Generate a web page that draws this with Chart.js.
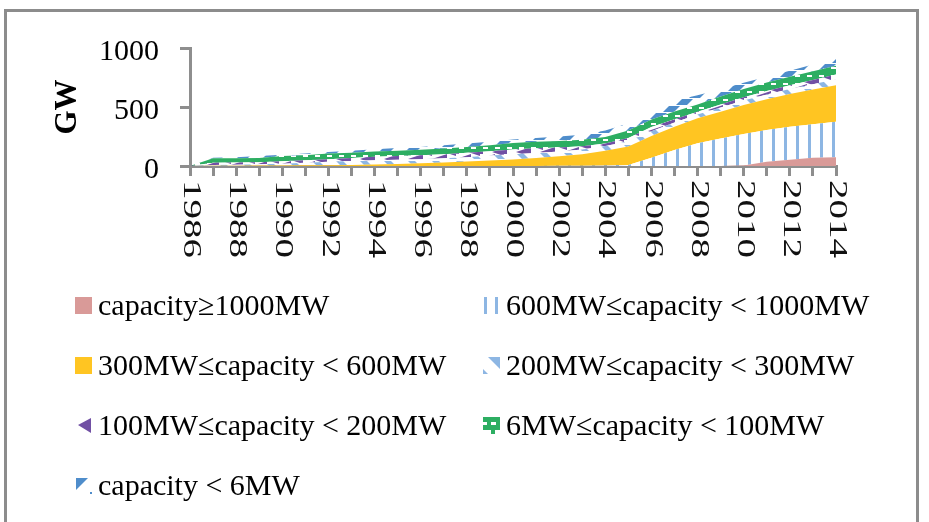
<!DOCTYPE html>
<html>
<head>
<meta charset="utf-8">
<script src="https://cdn.jsdelivr.net/npm/chart.js@4.4.0/dist/chart.umd.min.js"></script>
<style>
  body { margin: 0; background: #fff; }
  #wrap { position: relative; width: 929px; height: 522px; overflow: hidden; }
  #frame { position: absolute; left: 4px; top: 9px; width: 909px; height: 600px; border: 3px solid #8c8c8c; }
  #chart { position: absolute; left: 0; top: 0; }
  .item { position: absolute; height: 40px; display: flex; align-items: center;
          font: 30px "Liberation Serif"; color: #000; white-space: nowrap; }
  .item canvas { margin-right: 6px; }
</style>
</head>
<body>
<div id="wrap">
  <div id="frame"></div>
  <canvas id="chart" width="929" height="522"></canvas>
  <div id="legend"></div>
</div>
<script>
// installed capacity by unit size, GW
const years = ['1986','1987','1988','1989','1990','1991','1992','1993','1994','1995',
  '1996','1997','1998','1999','2000','2001','2002','2003','2004','2005',
  '2006','2007','2008','2009','2010','2011','2012','2013','2014'];

const cap1000 = [0,0,0,0,0,0,0,0,0,0,0,0,0,0,0,0,0,0,0,0,0,0,0,0,5,35,52,70,74];
const cap600  = [0,0,0,0,0,0,0,0,1,1,1,1,1,1,1,1,2,3,4,8,70,135,192,234,266,270,281,283,301];
const cap300  = [0,2,3,4,5,6,7,9,11,17,23,29,37,45,55,67,80,97,126,157,184,198,212,226,246,260,277,295,309];
const cap200  = [0,6,7,10,15,22,28,33,36,34,34,35,37,42,44,42,40,40,40,42,40,36,32,35,38,40,42,45,51];
const cap100  = [0,20,20,18,20,20,23,26,30,33,34,35,37,37,40,40,35,27,20,31,36,28,24,26,28,30,32,35,40];
const cap6    = [0,37,35,36,45,44,47,45,44,45,46,48,48,50,55,55,55,55,55,62,65,65,62,68,70,72,73,74,75];
const capLt6  = [0,5,10,17,10,13,13,17,20,22,24,27,30,30,30,33,38,43,55,60,55,93,78,61,52,50,50,58,60];

const seriesNames = ['capacity≥1000MW', '600MW≤capacity < 1000MW', '300MW≤capacity < 600MW',
  '200MW≤capacity < 300MW', '100MW≤capacity < 200MW', '6MW≤capacity < 100MW', 'capacity < 6MW'];

const gray = '#8e8e8e';
const pink = '#d99a98';
const lightBlue = '#8db6e3';
const yellow = '#ffc522';
const purple = '#7150a4';
const green = '#2dae62';
const blue = '#4f8dcb';

function tile(w, h, paint) {
  const c = document.createElement('canvas');
  c.width = w; c.height = h;
  const g = c.getContext('2d');
  g.fillStyle = '#fff';
  g.fillRect(0, 0, w, h);
  paint(g);
  return c;
}
function poly(g, pts) {
  g.beginPath();
  g.moveTo(pts[0][0], pts[0][1]);
  for (let i = 1; i < pts.length; i++) g.lineTo(pts[i][0], pts[i][1]);
  g.closePath();
  g.fill();
}

const tiles = [
  tile(4, 4, g => { g.fillStyle = pink; g.fillRect(0, 0, 4, 4); }),
  tile(12, 6, g => { g.fillStyle = lightBlue; g.fillRect(4, 0, 3, 6); }),
  tile(4, 4, g => { g.fillStyle = yellow; g.fillRect(0, 0, 4, 4); }),
  tile(24, 16, g => {
    g.fillStyle = lightBlue;
    poly(g, [[0,1],[7,1],[13,7],[6,7]]);
    poly(g, [[12,9],[19,9],[25,15],[18,15]]);
    poly(g, [[-12,9],[-5,9],[1,15],[-6,15]]);
  }),
  tile(24, 14, g => {
    g.fillStyle = purple;
    poly(g, [[0,5],[15,0],[15,10]]);
    poly(g, [[12,12],[27,7],[27,17]]);
    poly(g, [[-12,12],[3,7],[3,17]]);
    poly(g, [[12,-2],[27,-7],[27,3]]);
  }),
  tile(12, 8, g => { g.fillStyle = green; g.fillRect(0, 0, 12, 8); g.fillStyle = '#fff'; g.fillRect(3, 3, 5, 2); }),
  tile(26, 14, g => {
    g.fillStyle = blue;
    poly(g, [[0,7],[6,1],[17,1],[11,7]]);
    poly(g, [[13,14],[19,8],[30,8],[24,14]]);
    poly(g, [[-13,14],[-7,8],[4,8],[-2,14]]);
  })
];

// legend keys, 17x17
const keys = [
  g => { g.fillStyle = pink; g.fillRect(0, 0, 17, 17); },
  g => { g.fillStyle = lightBlue; g.fillRect(1, 0, 3, 17); g.fillRect(12, 0, 3, 17); },
  g => { g.fillStyle = yellow; g.fillRect(0, 0, 17, 17); },
  g => { g.fillStyle = lightBlue; poly(g, [[5,0],[17,0],[17,12]]); poly(g, [[0,12],[0,17],[5,17]]); },
  g => { g.fillStyle = purple; poly(g, [[3,8],[16,1],[16,16]]); },
  g => { g.fillStyle = green; g.fillRect(0, 0, 17, 17); g.fillStyle = '#fff';
         g.fillRect(0, 5, 4, 3); g.fillRect(8, 5, 5, 3); g.fillRect(0, 13, 8, 4); g.fillRect(12, 13, 5, 4); },
  g => { g.fillStyle = blue; poly(g, [[1,1],[13,1],[1,13]]); g.fillRect(15, 15, 2, 2); }
];

const ctx = document.getElementById('chart').getContext('2d');
const values = [cap1000, cap600, cap300, cap200, cap100, cap6, capLt6];

const datasets = values.map((v, i) => ({
  label: seriesNames[i],
  data: v,
  backgroundColor: ctx.createPattern(tiles[i], 'repeat'),
  borderColor: 'rgba(0,0,0,0)',
  borderWidth: 0,
  pointRadius: 0,
  tension: 0,
  fill: i === 0 ? 'origin' : '-1'
}));

// year labels run top to bottom, so they are drawn here
const yearLabels = {
  id: 'yearLabels',
  afterDraw(chart) {
    const xs = chart.scales.x;
    const g = chart.ctx;
    g.save();
    g.fillStyle = '#111';
    g.font = '26px "Liberation Serif"';
    g.textAlign = 'left';
    g.textBaseline = 'middle';
    years.forEach((yr, i) => {
      if (i % 2) return;
      g.save();
      g.translate(xs.getPixelForTick(i) + 1, xs.top + 14);
      g.rotate(Math.PI / 2);
      g.scale(1.5, 1);
      g.fillText(yr, 0, 0);
      g.restore();
    });
    g.restore();
  }
};

const chart = new Chart(ctx, {
  type: 'line',
  data: { labels: years, datasets: datasets },
  options: {
    responsive: false,
    animation: false,
    devicePixelRatio: 1,
    layout: { padding: { left: 47, right: 93, top: 48, bottom: 256 } },
    plugins: { legend: { display: false }, tooltip: { enabled: false } },
    scales: {
      x: {
        offset: false,
        grid: { drawOnChartArea: false, drawTicks: true, tickLength: 10, color: gray, lineWidth: 3, offset: false },
        border: { color: gray, width: 3 },
        ticks: { display: false, autoSkip: false },
        afterFit: a => { a.height = 100; }
      },
      y: {
        stacked: true,
        min: 0,
        max: 1000,
        ticks: {
          stepSize: 500,
          padding: 21,
          labelOffset: 4,
          color: '#000',
          font: { family: 'Liberation Serif', size: 30 },
          callback: v => v
        },
        grid: { drawOnChartArea: false, drawTicks: true, tickLength: 10, color: gray, lineWidth: 3 },
        border: { color: gray, width: 3 },
        title: {
          display: true,
          text: 'GW',
          color: '#000',
          padding: { top: 2, bottom: 4 },
          font: { family: 'Liberation Serif', size: 31, weight: 'bold' }
        },
        afterFit: a => { a.width = 143; }
      }
    }
  },
  plugins: [yearLabels]
});

// legend in two columns
const legend = document.getElementById('legend');
chart.data.datasets.forEach((ds, i) => {
  const item = document.createElement('div');
  item.className = 'item';
  item.style.left = (i % 2 ? 483 : 75) + 'px';
  item.style.top = (285 + 60 * Math.floor(i / 2)) + 'px';
  const sw = document.createElement('canvas');
  sw.width = 17; sw.height = 17;
  keys[i](sw.getContext('2d'));
  const txt = document.createElement('span');
  txt.textContent = ds.label;
  item.appendChild(sw);
  item.appendChild(txt);
  legend.appendChild(item);
});
</script>
</body>
</html>
